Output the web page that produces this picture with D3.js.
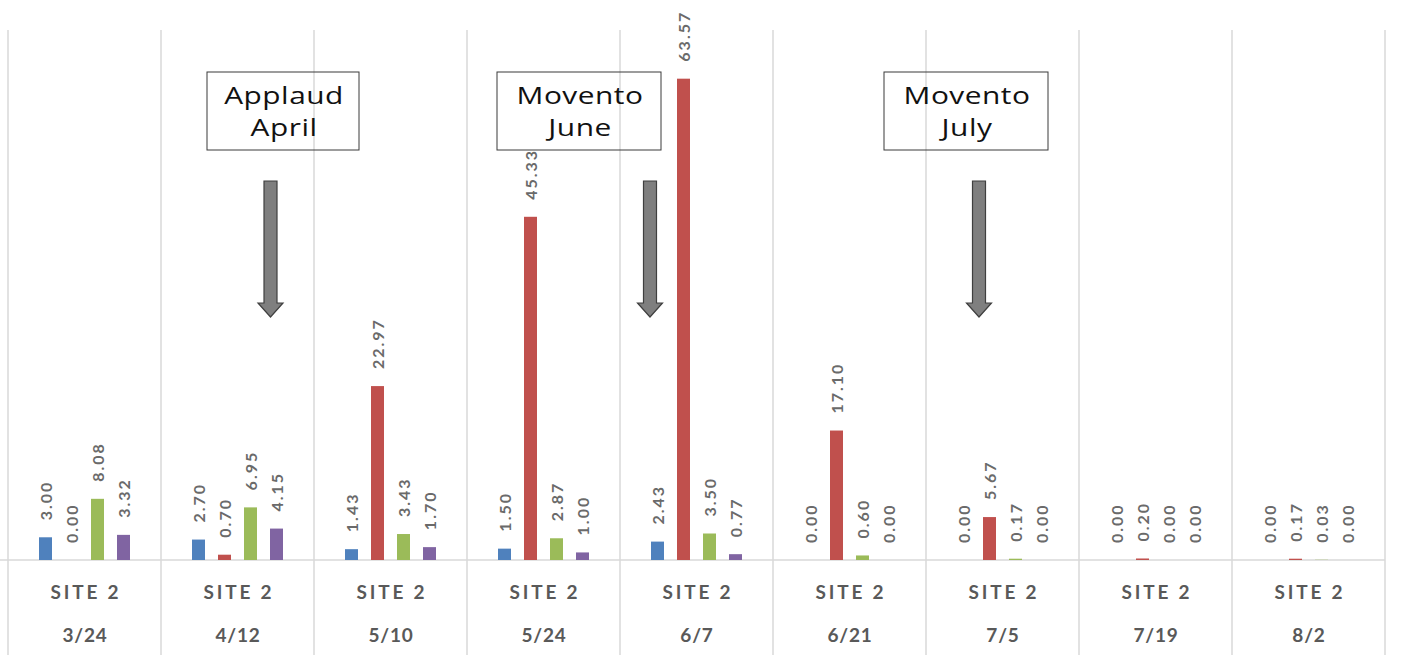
<!DOCTYPE html>
<html>
<head>
<meta charset="utf-8">
<script src="https://cdn.jsdelivr.net/npm/d3@7"></script>
<style>
  html, body { margin: 0; padding: 0; background: #fff; }
  svg { display: block; }
</style>
</head>
<body>
<svg id="chart" width="1401" height="664"></svg>
<script>
const categories = ["3/24", "4/12", "5/10", "5/24", "6/7", "6/21", "7/5", "7/19", "8/2"];
const siteLabels = ["SITE 2", "SITE 2", "SITE 2", "SITE 2", "SITE 2", "SITE 2", "SITE 2", "SITE 2", "SITE 2"];
const seriesNames = ["s1", "s2", "s3", "s4"];
const series1 = [3.00, 2.70, 1.43, 1.50, 2.43, 0.00, 0.00, 0.00, 0.00];
const series2 = [0.00, 0.70, 22.97, 45.33, 63.57, 17.10, 5.67, 0.20, 0.17];
const series3 = [8.08, 6.95, 3.43, 2.87, 3.50, 0.60, 0.17, 0.00, 0.03];
const series4 = [3.32, 4.15, 1.70, 1.00, 0.77, 0.00, 0.00, 0.00, 0.00];
const colors = ["#4F81BD", "#C0504D", "#9BBB59", "#8064A2"];
const annotations = [
  { lines: ["Applaud", "April"] },
  { lines: ["Movento", "June"] },
  { lines: ["Movento", "July"] }
];

const allSeries = [series1, series2, series3, series4];
const svg = d3.select("#chart");

const x = d3.scaleBand().domain(categories).range([8, 1385]).padding(0);
const bw = x.bandwidth();
const xs = d3.scaleBand().domain(seriesNames)
  .range([bw / 2 - 52, bw / 2 + 52]).paddingInner(0.5).paddingOuter(0.25);
const y = d3.scaleLinear().domain([0, 70]).range([560, 30]);

// vertical grid lines at category boundaries
const bounds = categories.map(c => x(c)).concat([x(categories[categories.length - 1]) + bw]);
svg.append("g").selectAll("line").data(bounds).join("line")
  .attr("x1", d => d).attr("x2", d => d)
  .attr("y1", 30).attr("y2", 655)
  .attr("stroke", "#d9d9d9").attr("stroke-width", 1.5);

// baseline
svg.append("line")
  .attr("x1", 0).attr("x2", 1385)
  .attr("y1", y(0)).attr("y2", y(0))
  .attr("stroke", "#d9d9d9").attr("stroke-width", 1.5);

// bars + labels
const data = [];
categories.forEach((c, i) => {
  seriesNames.forEach((s, j) => {
    data.push({ cat: c, ser: s, value: allSeries[j][i], color: colors[j] });
  });
});

const g = svg.append("g");
g.selectAll("rect").data(data).join("rect")
  .attr("x", d => x(d.cat) + xs(d.ser))
  .attr("y", d => y(d.value))
  .attr("width", xs.bandwidth())
  .attr("height", d => y(0) - y(d.value))
  .attr("fill", d => d.color);

g.selectAll("text.lbl").data(data).join("text")
  .attr("class", "lbl")
  .attr("transform", d => {
    const cx = x(d.cat) + xs(d.ser) + xs.bandwidth() / 2;
    const cy = y(d.value) - 17;
    return `translate(${cx},${cy}) rotate(-90)`;
  })
  .attr("text-anchor", "start")
  .attr("dominant-baseline", "central")
  .style("font-family", "Lato, 'Open Sans', sans-serif")
  .style("font-weight", "bold")
  .style("font-size", "16px")
  .style("letter-spacing", "2px")
  .attr("fill", "#6a6a6a")
  .text(d => d3.format(".2f")(d.value));

// category labels
const cl = svg.append("g");
cl.selectAll("text.site").data(categories).join("text")
  .attr("class", "site")
  .attr("x", (d) => x(d) + bw / 2 + 1.5)
  .attr("y", 599)
  .attr("text-anchor", "middle")
  .style("font-family", "Lato, 'Open Sans', sans-serif")
  .style("font-weight", "bold")
  .style("font-size", "19px")
  .style("letter-spacing", "2.8px")
  .attr("fill", "#595959")
  .text((d, i) => siteLabels[i]);

cl.selectAll("text.date").data(categories).join("text")
  .attr("class", "date")
  .attr("x", d => x(d) + bw / 2 + 0.5)
  .attr("y", 642)
  .attr("text-anchor", "middle")
  .style("font-family", "Lato, 'Open Sans', sans-serif")
  .style("font-weight", "bold")
  .style("font-size", "19px")
  .style("letter-spacing", "0.8px")
  .attr("fill", "#595959")
  .text(d => d);

// annotation boxes
const boxes = [
  { x: 207, w: 152 },
  { x: 497, w: 164 },
  { x: 884, w: 164 }
];
const arrowsX = [270.5, 650, 979];
annotations.forEach((a, i) => {
  const b = boxes[i];
  const ag = svg.append("g");
  ag.append("rect")
    .attr("x", b.x).attr("y", 72).attr("width", b.w).attr("height", 78)
    .attr("fill", "none").attr("stroke", "#3a3a3a").attr("stroke-width", 1);
  a.lines.forEach((t, k) => {
    ag.append("text")
      .attr("transform", `translate(${b.x + b.w / 2 + 1},${104 + k * 32}) scale(1.27,1)`)
      .attr("text-anchor", "middle")
      .style("font-family", "'Open Sans', sans-serif")
      .style("font-size", "23.5px")
      .style("letter-spacing", "0.4px")
      .attr("fill", "#111")
      .text(t);
  });
  // arrow
  const cx = arrowsX[i];
  const path = d3.path();
  path.moveTo(cx - 6.5, 181);
  path.lineTo(cx + 6.5, 181);
  path.lineTo(cx + 6.5, 303);
  path.lineTo(cx + 12.5, 303);
  path.lineTo(cx, 317);
  path.lineTo(cx - 12.5, 303);
  path.lineTo(cx - 6.5, 303);
  path.closePath();
  ag.append("path").attr("d", path.toString())
    .attr("fill", "#7f7f7f").attr("stroke", "#3f3f3f").attr("stroke-width", 1.2);
});
</script>
</body>
</html>
